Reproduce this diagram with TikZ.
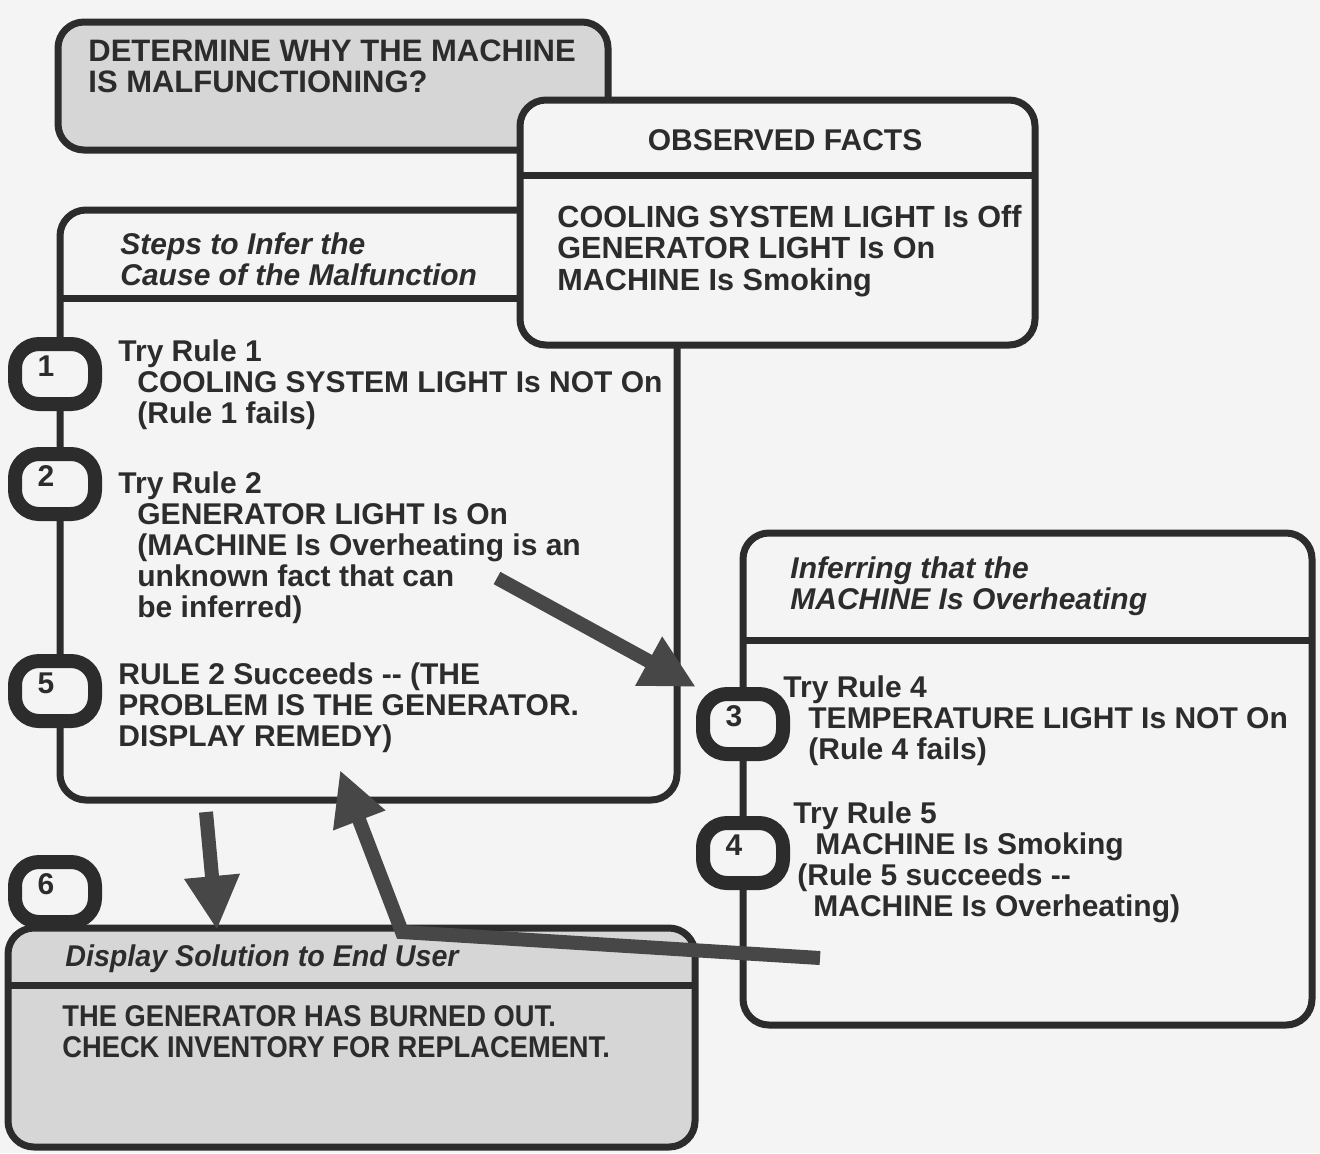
\documentclass[tikz,border=0pt]{standalone}
\usepackage{fontspec}
\setmainfont{Liberation Sans}
\newfontfamily\narrowbody[FakeStretch=0.91]{Liberation Sans}
\newfontfamily\narrowhead[FakeStretch=0.955]{Liberation Sans}
\usetikzlibrary{arrows.meta}
\definecolor{ink}{HTML}{2C2C2C}
\definecolor{paper}{HTML}{F4F4F4}
\definecolor{shade}{HTML}{D6D6D6}
\definecolor{arrowink}{HTML}{474747}
\newcommand\boxtext{\fontsize{15}{15.5}\selectfont\bfseries}
\newcommand\boxhead{\fontsize{15}{15.5}\selectfont\bfseries\itshape}
\begin{document}
\begin{tikzpicture}[x=0.5pt,y=-0.5pt,
  panel/.style={draw=ink, line width=3.5pt, rounded corners=13pt, fill=paper, inner sep=0pt},
  shadedpanel/.style={panel, fill=shade},
  divider/.style={draw=ink, line width=3.5pt},
  badge/.style={draw=ink, line width=7pt, rounded corners=12pt, fill=paper,
    minimum width=40pt, minimum height=30pt, inner sep=0pt},
  badgenum/.style={inner sep=0pt, font=\boxtext, text=ink},
  txt/.style={anchor=north west, inner sep=0pt, align=left, font=\boxtext, text=ink},
  ttl/.style={txt, font=\boxhead},
  arrowbar/.style={draw=arrowink, line width=7pt, -{Triangle[length=27pt,width=26pt]}},
]
% page
\fill[paper] (0,0) rectangle (1320,1153);
\useasboundingbox (0,0) rectangle (1320,1153);

% goal panel
\node[shadedpanel, minimum width=275pt, minimum height=64pt] (goal) at (333,86) {};
\node[txt, font=\fontsize{15.5}{15.5}\selectfont\bfseries] (goaltxt) at (88,39) {DETERMINE WHY THE MACHINE\\IS MALFUNCTIONING?};

% inference steps panel
\node[panel, minimum width=308.5pt, minimum height=295pt] (steps) at (368.5,505) {};
\draw[divider] (60,298) -- (677,298);
\node[ttl] (stepshead) at (120,232) {Steps to Infer the\\Cause of the Malfunction};
\node[txt] (r1) at (118,339) {Try Rule 1\\\hspace*{9.5pt}COOLING SYSTEM LIGHT Is NOT On\\\hspace*{9.5pt}(Rule 1 fails)};
\node[txt] (r2) at (118,471) {Try Rule 2\\\hspace*{9.5pt}GENERATOR LIGHT Is On\\\hspace*{9.5pt}(MACHINE Is Overheating is an\\\hspace*{9.5pt}unknown fact that can\\\hspace*{9.5pt}be inferred)};
\node[txt] (r5) at (118,662) {RULE 2 Succeeds -{}- (THE\\PROBLEM IS THE GENERATOR.\\DISPLAY REMEDY)};

% observed facts panel
\node[panel, minimum width=257.5pt, minimum height=122.5pt] (facts) at (777.5,222.5) {};
\draw[divider] (520,175) -- (1035,175);
\node[font=\boxtext, text=ink, inner sep=0pt] (factshead) at (785,140) {OBSERVED FACTS};
\node[txt, font=\fontsize{15.3}{15.7}\selectfont\bfseries] (factlist) at (557,205) {COOLING SYSTEM LIGHT Is Off\\GENERATOR LIGHT Is On\\MACHINE Is Smoking};

% sub-goal panel
\node[panel, minimum width=284.5pt, minimum height=246pt] (sub) at (1027.5,779) {};
\draw[divider] (743,640) -- (1312,640);
\node[ttl] (subhead) at (790,556) {Inferring that the\\MACHINE Is Overheating};
\node[txt] (r4) at (783,675) {Try Rule 4\\\hspace*{12.5pt}TEMPERATURE LIGHT Is NOT On\\\hspace*{12.5pt}(Rule 4 fails)};
\node[txt] (r5b) at (793,801) {Try Rule 5\\\hspace*{11pt}MACHINE Is Smoking\\\hspace*{2pt}(Rule 5 succeeds -{}-\\\hspace*{10pt}MACHINE Is Overheating)};

% solution panel
\node[shadedpanel, minimum width=343.5pt, minimum height=109.5pt] (sol) at (351.5,1037.5) {};
\draw[divider] (8,985) -- (695,985);
\node[ttl, font=\narrowhead\boxhead] (solhead) at (65,944) {Display Solution to End User};
\node[txt, font=\narrowbody\boxtext] (soltxt) at (62,1005) {THE GENERATOR HAS BURNED OUT.\\CHECK INVENTORY FOR REPLACEMENT.};

% step badges, number set a little up and to the left
\node[badge] (s1) at (55,374) {};
\node[badge] (s2) at (55,484) {};
\node[badge] (s5) at (55,691) {};
\node[badge] (s3) at (743,724) {};
\node[badge] (s4) at (743,853) {};
\node[badge] (s6) at (55,892) {};
\foreach \s/\n in {s1/1,s2/2,s5/5,s3/3,s4/4,s6/6}
  \node[badgenum] (\s num) at ([shift={(-9,-8)}]\s.center) {\n};

% flow arrows
\coordinate (fromr2) at (497,578);
\draw[arrowbar] (fromr2) -- (s3.north west);

\coordinate (down) at (206,812);
\coordinate (downend) at (217,930);
\draw[arrowbar] (down) -- (downend);

\coordinate (back) at (820,958);
\coordinate (bend) at (402,932);
\coordinate (backend) at (340,770);
\draw[arrowbar] (back) -- (bend) -- (backend);
\end{tikzpicture}
\end{document}
